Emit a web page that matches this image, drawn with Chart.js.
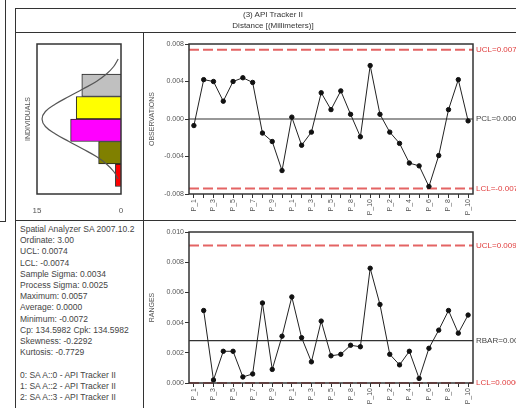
<!DOCTYPE html>
<html>
<head>
<meta charset="utf-8">
<script src="https://cdn.jsdelivr.net/npm/chart.js@4.4.0/dist/chart.umd.min.js"></script>
<style>
body { margin: 0; background: #fff; overflow: hidden; font-family: Arial, "Liberation Sans", sans-serif; }
#page { position: relative; width: 516px; height: 408px; overflow: hidden; }
.ln { position: absolute; background: #333; }
.cell { position: absolute; }
#title { position: absolute; left: 15px; top: 9px; width: 516px; text-align: center; font-size: 8px; line-height: 11px; color: #333; -webkit-font-smoothing: antialiased; will-change: transform; }
#stats { position: absolute; left: 20px; top: 224px; font-size: 8.5px; line-height: 11.2px; color: #444; white-space: nowrap; }
</style>
</head>
<body>
<div id="page">
  <div class="ln" style="left:5px;top:0;width:1px;height:221px"></div>
  <div class="ln" style="left:0;top:221px;width:6px;height:1px"></div>
  <div class="ln" style="left:15px;top:8px;width:520px;height:1px"></div>
  <div class="ln" style="left:15px;top:8px;width:1px;height:400px"></div>
  <div class="ln" style="left:15px;top:32px;width:520px;height:1px"></div>
  <div class="ln" style="left:15px;top:220px;width:520px;height:1px"></div>
  <div class="ln" style="left:143px;top:32px;width:1px;height:376px"></div>
  <div id="title">(3) API Tracker II<br>Distance [(Millimeters)]</div>
  <div class="cell" style="left:16px;top:33px"><canvas id="histo" width="127" height="187"></canvas></div>
  <div class="cell" style="left:144px;top:33px"><canvas id="obs" width="372" height="187"></canvas></div>
  <div class="cell" style="left:144px;top:221px"><canvas id="rng" width="372" height="187"></canvas></div>
  <div id="stats"></div>
</div>
<script>
// punti (etichette tagliate come nell'originale)
const labels = ['P_1','P_2','P_3','P_4','P_5','P_6','P_7','P_8','P_9','P_10',
  'P_1','P_2','P_3','P_4','P_5','P_6','P_8','P_9','P_10',
  'P_1','P_2','P_3','P_4','P_5','P_6','P_7','P_8','P_9','P_10'];

const observations = [-0.0007, 0.0042, 0.0040, 0.0019, 0.0040, 0.0044, 0.0039, -0.0015, -0.0024, -0.0055,
  0.0002, -0.0028, -0.0014, 0.0028, 0.0010, 0.0030, 0.0005, -0.0019, 0.0057, 0.0005,
  -0.0014, -0.0026, -0.0047, -0.0050, -0.0072, -0.0039, 0.0010, 0.0042, -0.0002];

const ranges = [null, 0.0048, 0.0002, 0.0021, 0.0021, 0.0004, 0.0006, 0.0053, 0.0009, 0.0031,
  0.0057, 0.0030, 0.0014, 0.0041, 0.0018, 0.0019, 0.0025, 0.0024, 0.0076, 0.0052,
  0.0019, 0.0012, 0.0021, 0.0003, 0.0023, 0.0035, 0.0048, 0.0033, 0.0045];

const obsLimits = [
  {value: 0.0074, text: 'UCL=0.0074', kind: 'limit'},
  {value: 0.0, text: 'PCL=0.0000', kind: 'center'},
  {value: -0.0074, text: 'LCL=-0.0074', kind: 'limit'}
];
const rangeLimits = [
  {value: 0.0091, text: 'UCL=0.0091', kind: 'limit'},
  {value: 0.0028, text: 'RBAR=0.0028', kind: 'center'},
  {value: 0.0, text: 'LCL=0.0000', kind: 'limit'}
];

// istogramma (classi larghe 0.003)
const binCenters = [0.0045, 0.0015, -0.0015, -0.0045, -0.0075];
const binCounts = [7, 8, 9, 4, 1];
const binColors = ['#c0c0c0', '#ffff00', '#ff00ff', '#808000', '#ff0000'];

// curva normale
const curveValues = [0.008, 0.007, 0.006, 0.005, 0.004, 0.003, 0.002, 0.001, 0.0,
  -0.001, -0.002, -0.003, -0.004, -0.005, -0.006, -0.007, -0.008];
const curveCounts = [0.5, 1.3, 2.6, 4.4, 6.8, 9.3, 11.7, 13.5, 14.1,
  13.5, 11.7, 9.3, 6.8, 4.4, 2.6, 1.3, 0.5];

const statLines = ['Spatial Analyzer SA 2007.10.2', 'Ordinate: 3.00', 'UCL: 0.0074', 'LCL: -0.0074',
  'Sample Sigma: 0.0034', 'Process Sigma: 0.0025', 'Maximum: 0.0057', 'Average: 0.0000',
  'Minimum: -0.0072', 'Cp: 134.5982 Cpk: 134.5982', 'Skewness: -0.2292', 'Kurtosis: -0.7729', '',
  '0: SA A::0 - API Tracker II', '1: SA A::2 - API Tracker II', '2: SA A::3 - API Tracker II'];

document.getElementById('stats').innerHTML = statLines.map(s => s === '' ? '&nbsp;' : s).join('<br>');

Chart.defaults.font.family = 'Arial, "Liberation Sans", sans-serif';
Chart.defaults.color = '#555';
Chart.defaults.animation = false;

const frame = {
  id: 'frame',
  afterDraw(chart) {
    const a = chart.chartArea;
    const ctx = chart.ctx;
    ctx.save();
    ctx.strokeStyle = '#333';
    ctx.lineWidth = 1.5;
    ctx.strokeRect(a.left, a.top, a.right - a.left, a.bottom - a.top);
    ctx.restore();
  }
};

const controlLines = {
  id: 'controlLines',
  beforeDatasetsDraw(chart, args, opts) {
    if (!opts.lines) return;
    const {ctx, chartArea} = chart;
    const y = chart.scales.y;
    opts.lines.forEach(l => {
      const py = y.getPixelForValue(l.value);
      ctx.save();
      if (l.kind === 'limit') {
        ctx.strokeStyle = '#e46464';
        ctx.lineWidth = 2;
        ctx.setLineDash([10, 4]);
      } else {
        ctx.strokeStyle = '#333';
        ctx.lineWidth = 1.2;
      }
      ctx.beginPath();
      ctx.moveTo(chartArea.left, py);
      ctx.lineTo(chartArea.right, py);
      ctx.stroke();
      ctx.restore();
    });
  },
  afterDraw(chart, args, opts) {
    if (!opts.lines) return;
    const {ctx, chartArea} = chart;
    const y = chart.scales.y;
    ctx.save();
    ctx.font = '8px Arial, "Liberation Sans", sans-serif';
    ctx.textBaseline = 'middle';
    opts.lines.forEach(l => {
      ctx.fillStyle = l.kind === 'limit' ? '#e03c3c' : '#444';
      ctx.fillText(l.text, chartArea.right + 3, y.getPixelForValue(l.value));
    });
    ctx.restore();
  }
};

function controlChart(id, values, yMin, yMax, step, title, limits, axisH) {
  return new Chart(document.getElementById(id), {
    type: 'line',
    data: {
      labels: labels,
      datasets: [{
        data: values,
        borderColor: '#222',
        borderWidth: 1,
        pointRadius: 2.2,
        pointBackgroundColor: '#111',
        pointBorderColor: '#111',
        tension: 0
      }]
    },
    options: {
      responsive: false,
      layout: {padding: {top: 11, right: 43, left: 0, bottom: 0}},
      plugins: {
        legend: {display: false},
        tooltip: {enabled: false},
        controlLines: {lines: limits}
      },
      scales: {
        x: {
          offset: true,
          grid: {display: true, drawOnChartArea: false, tickLength: 4, color: '#333'},
          border: {display: false},
          ticks: {
            autoSkip: false, maxRotation: 90, minRotation: 90, padding: 1,
            font: {size: 7},
            callback: (v, i) => i % 2 === 0 ? labels[i] : ''
          },
          afterFit: s => { s.height = axisH; }
        },
        y: {
          min: yMin, max: yMax,
          grid: {display: true, drawOnChartArea: false, tickLength: 4, color: '#333'},
          border: {display: false},
          ticks: {stepSize: step, padding: 1, font: {size: 7}, callback: v => v.toFixed(3)},
          title: {display: true, text: title, font: {size: 7}, padding: {top: 4, bottom: 0}},
          afterFit: s => { s.width = 45; }
        }
      }
    },
    plugins: [controlLines, frame]
  });
}

controlChart('obs', observations, -0.008, 0.008, 0.004, 'OBSERVATIONS', obsLimits, 26);
controlChart('rng', ranges, 0, 0.010, 0.002, 'RANGES', rangeLimits, 25);

new Chart(document.getElementById('histo'), {
  type: 'bar',
  data: {
    datasets: [
      {
        type: 'line',
        data: curveValues.map((v, i) => ({x: curveCounts[i], y: v})),
        borderColor: '#555',
        borderWidth: 1.2,
        pointRadius: 0,
        tension: 0.4,
        order: 0
      },
      {
        type: 'bar',
        indexAxis: 'y',
        data: binCenters.map((v, i) => ({x: binCounts[i], y: v})),
        backgroundColor: binColors,
        borderColor: '#222',
        borderWidth: 1,
        barPercentage: 1,
        categoryPercentage: 1,
        order: 1
      }
    ]
  },
  options: {
    responsive: false,
    indexAxis: 'y',
    layout: {padding: {top: 11, right: 22, left: 0, bottom: 0}},
    plugins: {legend: {display: false}, tooltip: {enabled: false}},
    scales: {
      x: {
        type: 'linear', reverse: true, min: 0, max: 15,
        grid: {display: false}, border: {display: false},
        ticks: {stepSize: 15, padding: 4, font: {size: 8}},
        afterFit: s => { s.height = 26; }
      },
      y: {
        type: 'linear', min: -0.008, max: 0.008,
        grid: {display: false}, border: {display: false},
        ticks: {display: false},
        // tick nascosti sui centri delle classi, cosi' le barre si toccano
        afterBuildTicks: s => { s.ticks = binCenters.map(v => ({value: v})); },
        title: {display: true, text: 'INDIVIDUALS', font: {size: 7}, padding: {top: 8, bottom: 0}},
        afterFit: s => { s.width = 21; }
      }
    }
  },
  plugins: [frame]
});
</script>
</body>
</html>
